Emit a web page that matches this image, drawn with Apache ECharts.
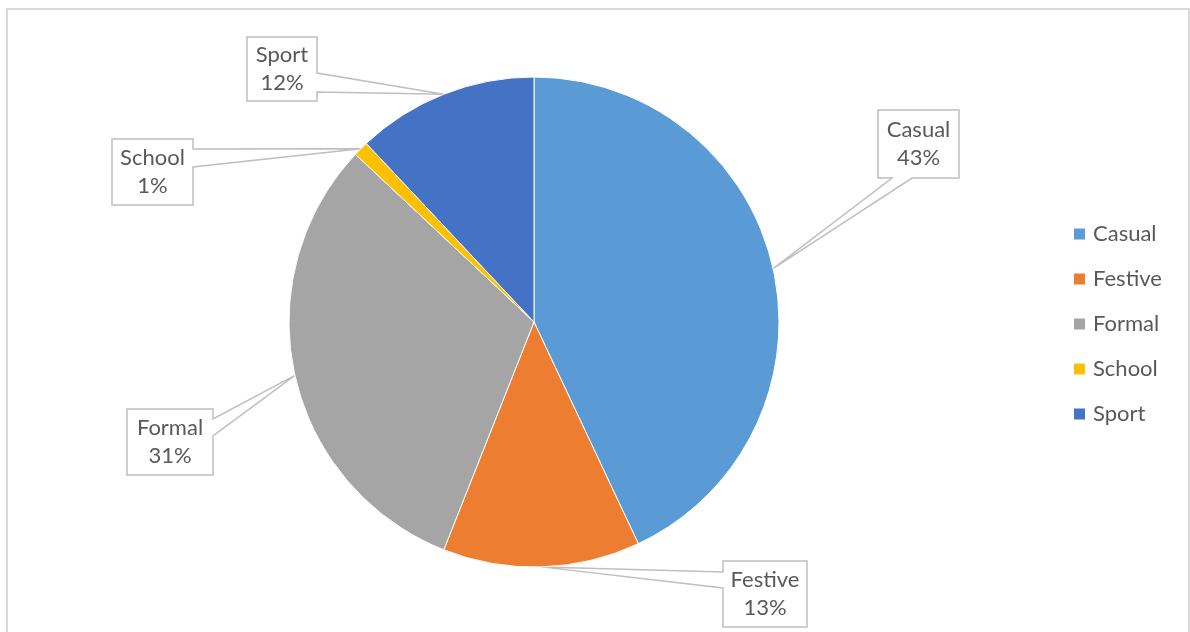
<!DOCTYPE html>
<html>
<head>
<meta charset="utf-8">
<style>
  html, body { margin: 0; padding: 0; background: #ffffff; }
  #chart { width: 1190px; height: 632px; }
</style>
<script src="https://cdn.jsdelivr.net/npm/echarts@6/dist/echarts.min.js"></script>
</head>
<body>
<div id="chart"></div>
<script>
// Share of clothing by occasion (percent)
const categories = ['Casual', 'Festive', 'Formal', 'School', 'Sport'];
const shares = [43, 13, 31, 1, 12];
const colors = ['#5B9BD5', '#ED7D31', '#A5A5A5', '#FFC000', '#4472C4'];

// Callout boxes: box rectangle, the box edge the pointer leaves from,
// and the two points on that edge where the pointer starts.
const callouts = [
  { x: 878, y: 110, w: 81, h: 68, side: 'bottom', base: [892, 912] },
  { x: 723, y: 561, w: 84, h: 66, side: 'left',   base: [572, 588] },
  { x: 127, y: 409, w: 86, h: 66, side: 'right',  base: [419, 436] },
  { x: 112, y: 139, w: 81, h: 66, side: 'right',  base: [149, 167] },
  { x: 247, y: 37,  w: 70, h: 64, side: 'right',  base: [73, 92] }
];

const FONT = 'Lato, "Open Sans", sans-serif';
const TEXT = '#595959';
const FRAME = {
  type: 'rect',
  silent: true,
  shape: { x: 7, y: 9, width: 1182, height: 640 },
  style: { fill: null, stroke: '#d9d9d9', lineWidth: 2 }
};

const chart = echarts.init(document.getElementById('chart'), null, { renderer: 'canvas' });

chart.setOption({
  backgroundColor: '#ffffff',
  animation: false,
  color: colors,
  legend: {
    orient: 'vertical',
    left: 1074,
    top: 223,
    padding: 0,
    icon: 'rect',
    itemWidth: 11,
    itemHeight: 11,
    itemGap: 23,
    itemStyle: { borderWidth: 0 },
    data: categories,
    textStyle: { color: TEXT, fontFamily: FONT, fontSize: 22, lineHeight: 22, padding: [0, 0, 0, 3] }
  },
  graphic: [FRAME],
  series: [{
    type: 'pie',
    center: [534, 322],
    radius: 245,
    startAngle: 90,
    clockwise: true,
    z: 2,
    itemStyle: { borderColor: '#ffffff', borderWidth: 1 },
    emphasis: { disabled: true },
    label: {
      show: true,
      formatter: '{b}\n{d}%',
      color: TEXT,
      fontFamily: FONT,
      fontSize: 22,
      lineHeight: 28,
      align: 'center'
    },
    labelLine: { show: false },
    labelLayout: function (params) {
      const c = callouts[params.dataIndex];
      return {
        x: c.x + c.w / 2,
        y: c.y + c.h / 2,
        align: 'center',
        verticalAlign: 'middle'
      };
    },
    data: categories.map((name, i) => ({ name: name, value: shares[i] }))
  }]
});

// Build callout outlines pointing at the middle of each slice's arc
function calloutPoints(c, tip) {
  const l = c.x, t = c.y, r = c.x + c.w, b = c.y + c.h;
  const [a1, a2] = c.base;
  if (c.side === 'bottom') {
    return [[l, t], [r, t], [r, b], [a2, b], tip, [a1, b], [l, b]];
  }
  if (c.side === 'right') {
    return [[l, t], [r, t], [r, a1], tip, [r, a2], [r, b], [l, b]];
  }
  // left
  return [[l, t], [r, t], [r, b], [l, b], [l, a2], tip, [l, a1]];
}

const data = chart.getModel().getSeriesByIndex(0).getData();
const shapes = [];
categories.forEach((name, i) => {
  const lay = data.getItemLayout(i);
  const mid = (lay.startAngle + lay.endAngle) / 2;
  const tip = [lay.cx + lay.r * Math.cos(mid), lay.cy + lay.r * Math.sin(mid)];
  shapes.push({
    type: 'polygon',
    silent: true,
    z: 1,
    shape: { points: calloutPoints(callouts[i], tip) },
    style: { fill: '#ffffff', stroke: '#bfbfbf', lineWidth: 1.5 }
  });
});

chart.setOption({ graphic: [FRAME].concat(shapes) });
</script>
</body>
</html>
